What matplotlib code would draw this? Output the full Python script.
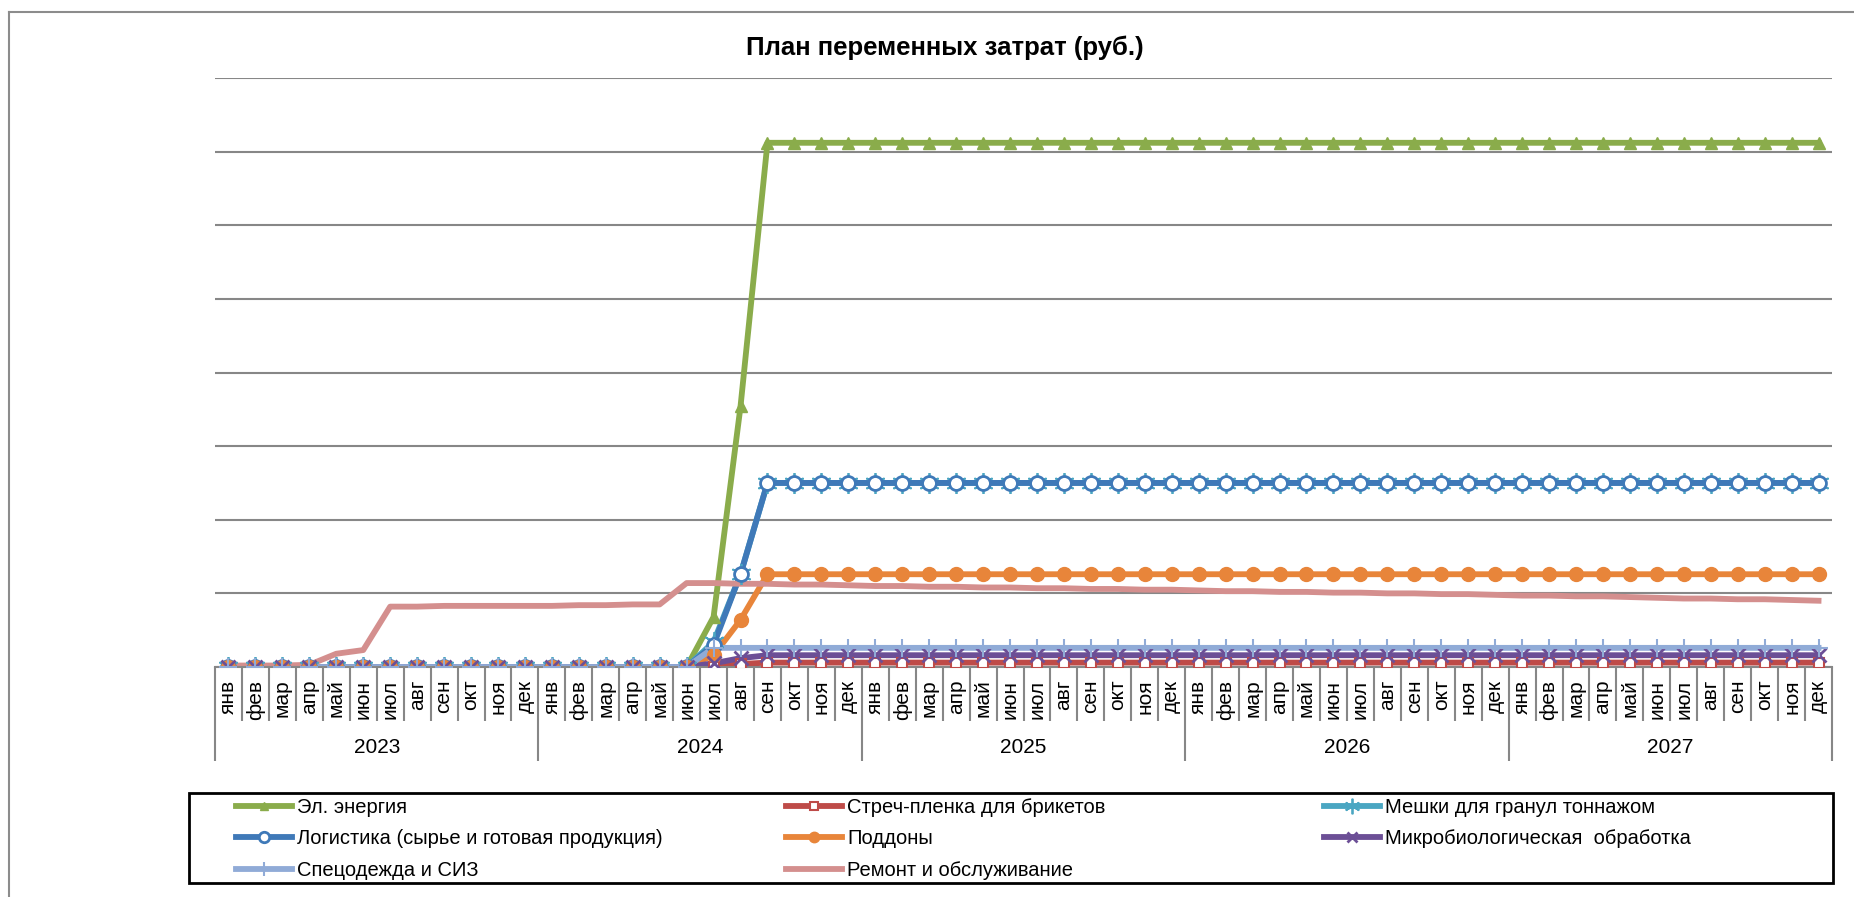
import matplotlib
matplotlib.use("Agg")
import matplotlib.pyplot as plt
from matplotlib.lines import Line2D
from matplotlib.patches import Rectangle

plt.rcParams['font.family'] = ['Liberation Sans', 'DejaVu Sans']

months = ['янв', 'фев', 'мар', 'апр', 'май', 'июн', 'июл', 'авг', 'сен', 'окт', 'ноя', 'дек']
years = ['2023', '2024', '2025', '2026', '2027']

# values in grid units (labels of the value axis are hidden in the source)
el_energy = [
    0, 0, 0, 0, 0, 0, 0, 0, 0, 0, 0, 0,
    0, 0, 0, 0, 0, 0, 0.68, 3.54, 7.12, 7.12, 7.12, 7.12,
    7.12, 7.12, 7.12, 7.12, 7.12, 7.12, 7.12, 7.12, 7.12, 7.12, 7.12, 7.12,
    7.12, 7.12, 7.12, 7.12, 7.12, 7.12, 7.12, 7.12, 7.12, 7.12, 7.12, 7.12,
    7.12, 7.12, 7.12, 7.12, 7.12, 7.12, 7.12, 7.12, 7.12, 7.12, 7.12, 7.12,
]
stretch_film = [
    0, 0, 0, 0, 0, 0, 0, 0, 0, 0, 0, 0,
    0, 0, 0, 0, 0, 0, 0, 0.04, 0.06, 0.06, 0.06, 0.06,
    0.06, 0.06, 0.06, 0.06, 0.06, 0.06, 0.06, 0.06, 0.06, 0.06, 0.06, 0.06,
    0.06, 0.06, 0.06, 0.06, 0.06, 0.06, 0.06, 0.06, 0.06, 0.06, 0.06, 0.06,
    0.06, 0.06, 0.06, 0.06, 0.06, 0.06, 0.06, 0.06, 0.06, 0.06, 0.06, 0.06,
]
bags = [
    0, 0, 0, 0, 0, 0, 0, 0, 0, 0, 0, 0,
    0, 0, 0, 0, 0, 0, 0.34, 1.26, 2.5, 2.5, 2.5, 2.5,
    2.5, 2.5, 2.5, 2.5, 2.5, 2.5, 2.5, 2.5, 2.5, 2.5, 2.5, 2.5,
    2.5, 2.5, 2.5, 2.5, 2.5, 2.5, 2.5, 2.5, 2.5, 2.5, 2.5, 2.5,
    2.5, 2.5, 2.5, 2.5, 2.5, 2.5, 2.5, 2.5, 2.5, 2.5, 2.5, 2.5,
]
logistics = [
    0, 0, 0, 0, 0, 0, 0, 0, 0, 0, 0, 0,
    0, 0, 0, 0, 0, 0, 0.3, 1.26, 2.5, 2.5, 2.5, 2.5,
    2.5, 2.5, 2.5, 2.5, 2.5, 2.5, 2.5, 2.5, 2.5, 2.5, 2.5, 2.5,
    2.5, 2.5, 2.5, 2.5, 2.5, 2.5, 2.5, 2.5, 2.5, 2.5, 2.5, 2.5,
    2.5, 2.5, 2.5, 2.5, 2.5, 2.5, 2.5, 2.5, 2.5, 2.5, 2.5, 2.5,
]
pallets = [
    0, 0, 0, 0, 0, 0, 0, 0, 0, 0, 0, 0,
    0, 0, 0, 0, 0, 0, 0.16, 0.64, 1.26, 1.26, 1.26, 1.26,
    1.26, 1.26, 1.26, 1.26, 1.26, 1.26, 1.26, 1.26, 1.26, 1.26, 1.26, 1.26,
    1.26, 1.26, 1.26, 1.26, 1.26, 1.26, 1.26, 1.26, 1.26, 1.26, 1.26, 1.26,
    1.26, 1.26, 1.26, 1.26, 1.26, 1.26, 1.26, 1.26, 1.26, 1.26, 1.26, 1.26,
]
microbio = [
    0, 0, 0, 0, 0, 0, 0, 0, 0, 0, 0, 0,
    0, 0, 0, 0, 0, 0, 0.05, 0.12, 0.16, 0.16, 0.16, 0.16,
    0.16, 0.16, 0.16, 0.16, 0.16, 0.16, 0.16, 0.16, 0.16, 0.16, 0.16, 0.16,
    0.16, 0.16, 0.16, 0.16, 0.16, 0.16, 0.16, 0.16, 0.16, 0.16, 0.16, 0.16,
    0.16, 0.16, 0.16, 0.16, 0.16, 0.16, 0.16, 0.16, 0.16, 0.16, 0.16, 0.16,
]
workwear = [
    0, 0, 0, 0, 0, 0, 0, 0, 0, 0, 0, 0,
    0, 0, 0, 0, 0, 0, 0.26, 0.26, 0.26, 0.26, 0.26, 0.26,
    0.26, 0.26, 0.26, 0.26, 0.26, 0.26, 0.26, 0.26, 0.26, 0.26, 0.26, 0.26,
    0.26, 0.26, 0.26, 0.26, 0.26, 0.26, 0.26, 0.26, 0.26, 0.26, 0.26, 0.26,
    0.26, 0.26, 0.26, 0.26, 0.26, 0.26, 0.26, 0.26, 0.26, 0.26, 0.26, 0.26,
]
repair = [
    0.02, 0.02, 0.02, 0.03, 0.18, 0.23, 0.82, 0.82, 0.83, 0.83, 0.83, 0.83,
    0.83, 0.84, 0.84, 0.85, 0.85, 1.14, 1.14, 1.13, 1.13, 1.12, 1.12, 1.11,
    1.10, 1.10, 1.09, 1.09, 1.08, 1.08, 1.07, 1.07, 1.06, 1.06, 1.05, 1.05,
    1.04, 1.03, 1.03, 1.02, 1.02, 1.01, 1.01, 1.00, 1.00, 0.99, 0.99, 0.98,
    0.97, 0.97, 0.96, 0.96, 0.95, 0.94, 0.93, 0.93, 0.92, 0.92, 0.91, 0.90,
]

W, H = 1854, 897
fig = plt.figure(figsize=(W / 100, H / 100), dpi=100)
ax = fig.add_axes([215 / W, 1 - 667 / H, (1832 - 215) / W, (667 - 78) / H])

x = list(range(len(months) * len(years)))
lw = 4.2
series = [
    ('Эл. энергия', el_energy, '#8aac4b', dict(marker='^', ms=8)),
    ('Стреч-пленка для брикетов', stretch_film, '#be4b48', dict(marker='s', ms=7, mfc='white', mew=1.5)),
    ('Мешки для гранул тоннажом', bags, '#4aa6c2', dict(marker=(6, 2, 0), ms=15, mew=1.3)),
    ('Логистика (сырье и готовая продукция)', logistics, '#3f79b8', dict(marker='o', ms=10, mfc='white', mew=2)),
    ('Поддоны', pallets, '#e8853a', dict(marker='o', ms=10)),
    ('Микробиологическая  обработка', microbio, '#6c4f96', dict(marker='x', ms=10, mew=2)),
    ('Спецодежда и СИЗ', workwear, '#90abd7', dict(marker='+', ms=13, mew=1.5)),
    ('Ремонт и обслуживание', repair, '#d48f8e', None),
]
handles = []
for k, (name, vals, c, mk) in enumerate(series):
    ln, = ax.plot(x, vals, lw=lw, color=c, solid_joinstyle='round', zorder=2 + k * 0.01)
    if mk is None:
        handles.append(ln)
        continue
    # markers sit on top of all lines, as in the source chart
    m, = ax.plot(x, vals, ls='none', color=c, zorder=3 + k * 0.01, **mk)
    handles.append((ln, m))

ax.set_xlim(-0.5, len(x) - 0.5)
ax.set_ylim(0, 8)
ax.set_yticks(range(9))
ax.set_yticklabels([])
ax.tick_params(axis='y', length=0)
ax.grid(axis='y', color='#878787', lw=1.5)
ax.set_axisbelow(True)
for s in ['left', 'top', 'right']:
    ax.spines[s].set_visible(False)
ax.spines['bottom'].set_color('#878787')
ax.spines['bottom'].set_linewidth(1.5)

ax.set_xticks(x)
ax.set_xticklabels(months * len(years), rotation=90, fontsize=15)
ax.tick_params(axis='x', length=0, pad=9)

# category table below the axis
tr = ax.get_xaxis_transform()
month_edges = [i + 0.5 for i in x[:-1] if (i + 1) % 12 != 0]
year_edges = [i * 12 - 0.5 for i in range(len(years) + 1)]
ax.vlines(month_edges, -0.0915, 0, transform=tr, colors='#878787', lw=1.5, clip_on=False)
ax.vlines(year_edges, -0.16, 0, transform=tr, colors='#878787', lw=1.5, clip_on=False)
for k, yr in enumerate(years):
    ax.text(k * 12 + 5.5, -0.137, yr, transform=tr, ha='center', va='center', fontsize=15)

fig.text(945 / W, 1 - 48 / H, 'План переменных затрат (руб.)', ha='center', va='center',
         fontsize=18.5, fontweight='bold')

# chart area border
fig.add_artist(Line2D([9 / W, 9 / W], [0, 1 - 12 / H], transform=fig.transFigure, color='#8c8c8c', lw=1.5))
fig.add_artist(Line2D([9 / W, 1], [1 - 12 / H, 1 - 12 / H], transform=fig.transFigure, color='#8c8c8c', lw=1.5))

# legend box with three columns
fig.add_artist(Rectangle((189 / W, 1 - 883 / H), (1833 - 189) / W, 90 / H, transform=fig.transFigure,
                         fill=False, ec='black', lw=2))
cols = [[0, 3, 6], [1, 4, 7], [2, 5]]
col_x = [236, 786, 1324]
for cx, idx in zip(col_x, cols):
    fig.legend([handles[i] for i in idx], [series[i][0] for i in idx], loc='upper left',
               bbox_to_anchor=(cx / W, 1 - 798 / H), bbox_transform=fig.transFigure,
               frameon=False, fontsize=14.5, borderpad=0, borderaxespad=0,
               handlelength=2.8, handletextpad=0.25, labelspacing=0.62, markerscale=0.75)

fig.savefig('out.png', dpi=100)
